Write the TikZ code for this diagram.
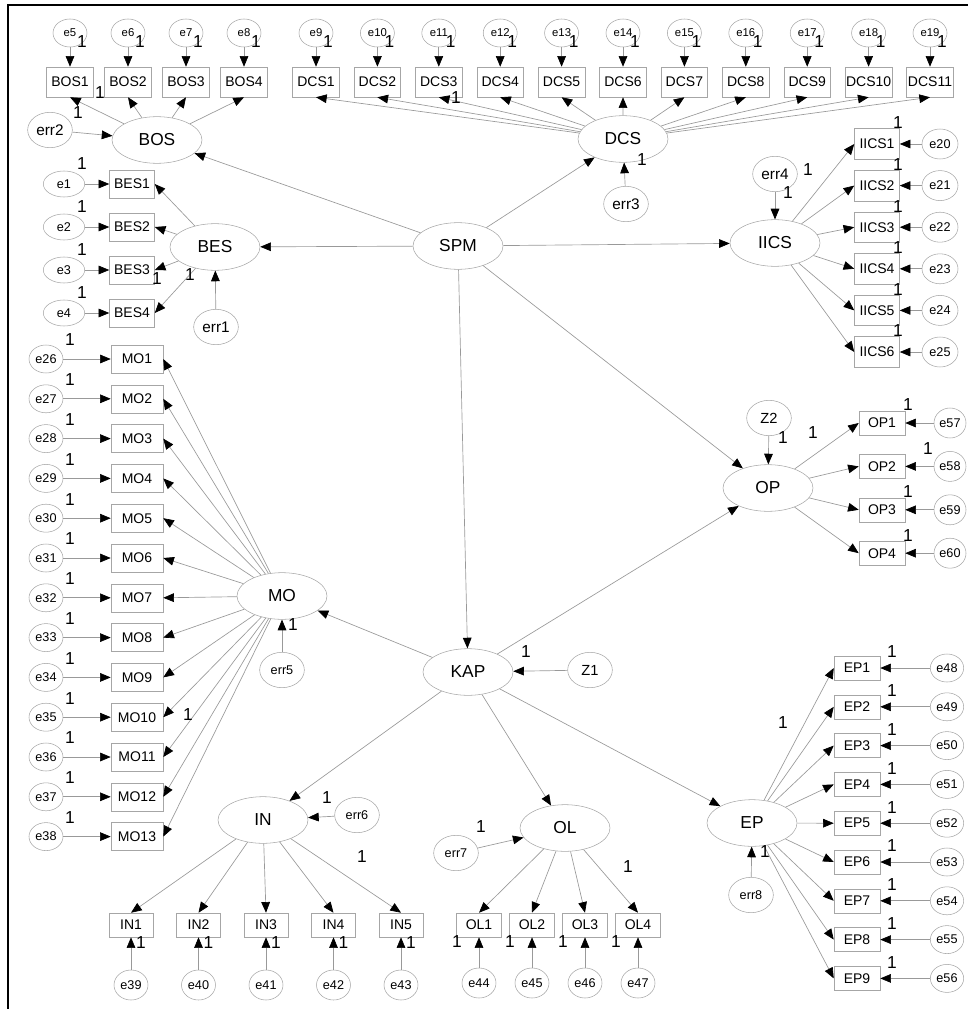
\documentclass[tikz,border=0pt]{standalone}
\usepackage{fontspec}
\setmainfont{Liberation Sans}
\usetikzlibrary{arrows.meta,shapes.geometric}

\begin{document}
\begin{tikzpicture}[x=0.75pt, y=-0.75pt, >={Triangle[length=8pt, width=6.5pt, color=black]},
  lat/.style={ellipse, draw=gray!70, minimum width=67.5pt, minimum height=35pt, inner sep=0pt, font=\fontsize{13}{15}\selectfont},
  obs/.style={draw=gray!70, minimum width=35pt, minimum height=22.5pt, inner sep=0pt, font=\fontsize{10.5}{12}\selectfont},
  err/.style={ellipse, draw=gray!70, minimum width=25.5pt, minimum height=21pt, inner sep=0pt, font=\fontsize{9.5}{11}\selectfont},
  res/.style={ellipse, draw=gray!70, minimum width=33.5pt, minimum height=26.5pt, inner sep=0pt, font=\fontsize{11}{13}\selectfont},
  one/.style={inner sep=0pt, font=\fontsize{13}{15}\selectfont},
  link/.style={draw=gray!80, line width=0.5pt, ->}]
  \useasboundingbox (0,0) rectangle (968,1009);
  \draw[line width=1.5pt] (8,1009) -- (8,5) -- (968,5);

  % latent variables
  \node[lat] (BOS) at (157,140) {BOS};
  \node[lat] (BES) at (215,247) {BES};
  \node[lat] (SPM) at (458,246) {SPM};
  \node[lat] (DCS) at (623,139) {DCS};
  \node[lat] (IICS) at (775,243) {IICS};
  \node[lat] (OP) at (768,488) {OP};
  \node[lat] (MO) at (282,596) {MO};
  \node[lat] (KAP) at (468,672) {KAP};
  \node[lat] (IN) at (263,820) {IN};
  \node[lat] (OL) at (565,828) {OL};
  \node[lat] (EP) at (752,823) {EP};

  % residuals
  \node[res, font=\fontsize{11.5}{13}\selectfont] (err2) at (50,130) {err2};
  \node[res, font=\fontsize{11.5}{13}\selectfont] (err1) at (216,327) {err1};
  \node[res, font=\fontsize{11.5}{13}\selectfont] (err3) at (626,204) {err3};
  \node[res, font=\fontsize{11.5}{13}\selectfont] (err4) at (775,174) {err4};
  \node[res] (Z2) at (769,418) {Z2};
  \node[res, font=\fontsize{9.5}{11}\selectfont] (err5) at (282,670) {err5};
  \node[res] (Z1) at (590,670) {Z1};
  \node[res, font=\fontsize{9.5}{11}\selectfont] (err6) at (357,815) {err6};
  \node[res, font=\fontsize{9.5}{11}\selectfont] (err7) at (456,853) {err7};
  \node[res, font=\fontsize{9.5}{11}\selectfont] (err8) at (751,895) {err8};

  % indicators
  \foreach \i in {1,...,4} {
    \pgfmathsetmacro\x{70+58*(\i-1)}
    \pgfmathtruncatemacro\k{\i+4}
    \node[obs] (BOS\i) at (\x,82) {BOS\i};
    \node[err, font=\fontsize{8.5}{10}\selectfont] (e\k) at (\x,33) {e\k};
    \node[one] (n\k) at (\x+12,42) {1};
    \draw[link] (e\k) -- (BOS\i);
    \draw[link] (BOS) -- (BOS\i.south);
  }
  \foreach \i in {1,...,11} {
    \pgfmathsetmacro\x{316+61.4*(\i-1)}
    \pgfmathtruncatemacro\k{\i+8}
    \node[obs] (DCS\i) at (\x,82) {DCS\i};
    \node[err, font=\fontsize{8.5}{10}\selectfont] (e\k) at (\x,33) {e\k};
    \node[one] (n\k) at (\x+12,42) {1};
    \draw[link] (e\k) -- (DCS\i);
    \draw[link] (DCS) -- (DCS\i.south);
  }
  \foreach \i in {1,...,4} {
    \pgfmathsetmacro\y{184+43*(\i-1)}
    \node[obs, minimum width=33.75pt, minimum height=21pt] (BES\i) at (132,\y) {BES\i};
    \node[err, minimum width=31pt, minimum height=19.5pt] (e\i) at (64,\y) {e\i};
    \node[one] (n\i) at (82,\y-20) {1};
    \draw[link] (e\i) -- (BES\i);
    \draw[link] (BES) -- (BES\i.east);
  }
  \foreach \i in {1,...,13} {
    \pgfmathsetmacro\y{359+39.8*(\i-1)}
    \pgfmathtruncatemacro\k{\i+25}
    \node[obs, minimum width=39pt, minimum height=21pt] (MO\i) at (137,\y) {MO\i};
    \node[err] (e\k) at (46,\y) {e\k};
    \node[one] (n\k) at (70,\y-19) {1};
    \draw[link] (e\k) -- (MO\i);
    \draw[link] (MO) -- (MO\i.east);
  }
  \foreach \i in {1,...,6} {
    \pgfmathsetmacro\y{144+41.6*(\i-1)}
    \pgfmathtruncatemacro\k{\i+19}
    \node[obs, minimum width=33.75pt, minimum height=23pt] (IICS\i) at (877,\y) {IICS\i};
    \node[err, minimum width=27pt, minimum height=22.5pt] (e\k) at (940,\y) {e\k};
    \node[one] (n\k) at (898,\y-21) {1};
    \draw[link] (e\k) -- (IICS\i);
    \draw[link] (IICS) -- (IICS\i.west);
  }
  \foreach \i/\lx in {1/908,2/928,3/908,4/908} {
    \pgfmathsetmacro\y{423+43.4*(\i-1)}
    \pgfmathtruncatemacro\k{\i+56}
    \node[obs, minimum width=34.5pt, minimum height=18pt] (OP\i) at (882,\y) {OP\i};
    \node[err, minimum width=24pt, minimum height=22.5pt] (e\k) at (950,\y) {e\k};
    \node[one] (n\k) at (\lx,\y-18) {1};
    \draw[link] (e\k) -- (OP\i);
    \draw[link] (OP) -- (OP\i.west);
  }
  \foreach \i in {1,...,9} {
    \pgfmathsetmacro\y{668+38.8*(\i-1)}
    \pgfmathtruncatemacro\k{\i+47}
    \node[obs, minimum width=34.5pt, minimum height=18pt] (EP\i) at (857,\y) {EP\i};
    \node[err, minimum width=25pt, minimum height=21pt] (e\k) at (947,\y) {e\k};
    \node[one] (n\k) at (892,\y-16) {1};
    \draw[link] (e\k) -- (EP\i);
    \draw[link] (EP) -- (EP\i.west);
  }
  \foreach \i in {1,...,5} {
    \pgfmathsetmacro\x{131+67.5*(\i-1)}
    \pgfmathtruncatemacro\k{\i+38}
    \node[obs, minimum width=33pt, minimum height=18pt] (IN\i) at (\x,925) {IN\i};
    \node[err, minimum height=22.5pt] (e\k) at (\x,985) {e\k};
    \node[one] (n\k) at (\x+10,943) {1};
    \draw[link] (e\k) -- (IN\i);
    \draw[link] (IN) -- (IN\i.north);
  }
  \foreach \i in {1,...,4} {
    \pgfmathsetmacro\x{479+53*(\i-1)}
    \pgfmathtruncatemacro\k{\i+43}
    \node[obs, minimum width=34pt, minimum height=18pt] (OL\i) at (\x,925) {OL\i};
    \node[err, minimum height=22.5pt] (e\k) at (\x,983) {e\k};
    \node[one] (n\k) at (\x-22,942) {1};
    \draw[link] (e\k) -- (OL\i);
    \draw[link] (OL) -- (OL\i.north);
  }

  % structural paths
  \draw[link] (SPM) -- (BOS);
  \draw[link] (SPM) -- (BES);
  \draw[link] (SPM) -- (DCS);
  \draw[link] (SPM) -- (IICS);
  \draw[link] (SPM) -- (OP);
  \draw[link] (SPM) -- (KAP);
  \draw[link] (KAP) -- (OP);
  \draw[link] (KAP) -- (MO);
  \draw[link] (KAP) -- (IN);
  \draw[link] (KAP) -- (OL);
  \draw[link] (KAP) -- (EP);
  \draw[link] (err2) -- (BOS);
  \draw[link] (err1) -- (BES);
  \draw[link] (err3) -- (DCS);
  \draw[link] (err4) -- (IICS);
  \draw[link] (Z2) -- (OP);
  \draw[link] (err5) -- (MO);
  \draw[link] (Z1) -- (KAP);
  \draw[link] (err6) -- (IN);
  \draw[link] (err7) -- (OL);
  \draw[link] (err8) -- (EP);

  % fixed loadings
  \node[one] (f1) at (100,93) {1};
  \node[one] (f2) at (78,113) {1};
  \node[one] (f3) at (157,279) {1};
  \node[one] (f4) at (190,275) {1};
  \node[one] (f5) at (642,160) {1};
  \node[one] (f6) at (456,98) {1};
  \node[one] (f7) at (808,170) {1};
  \node[one] (f8) at (788,193) {1};
  \node[one] (f9) at (783,438) {1};
  \node[one] (f10) at (813,433) {1};
  \node[one] (f11) at (293,625) {1};
  \node[one] (f12) at (188,715) {1};
  \node[one] (f13) at (526,652) {1};
  \node[one] (f14) at (327,798) {1};
  \node[one] (f15) at (362,857) {1};
  \node[one] (f16) at (481,827) {1};
  \node[one] (f17) at (628,867) {1};
  \node[one] (f18) at (765,852) {1};
  \node[one] (f19) at (783,723) {1};
\end{tikzpicture}
\end{document}
